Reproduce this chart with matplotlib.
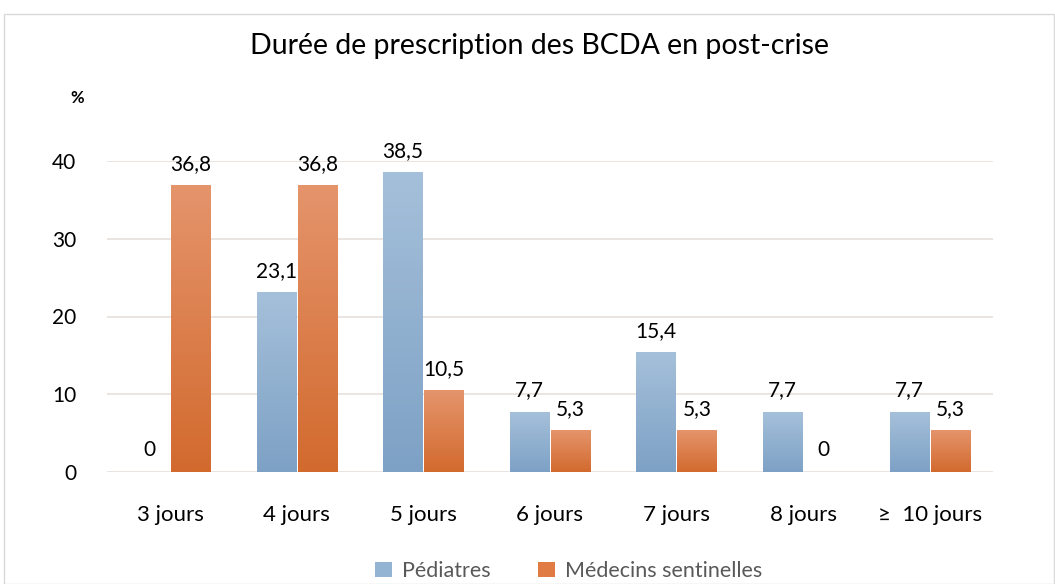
import matplotlib
matplotlib.use("Agg")
import matplotlib.pyplot as plt
import numpy as np
from matplotlib.patches import Rectangle, Patch
from matplotlib.colors import LinearSegmentedColormap

plt.rcParams['font.family'] = ['Lato', 'DejaVu Sans']

categories = ["3 jours", "4 jours", "5 jours", "6 jours", "7 jours", "8 jours", "≥  10 jours"]
pediatres = [0, 23.1, 38.5, 7.7, 15.4, 7.7, 7.7]
sentinelles = [36.8, 36.8, 10.5, 5.3, 5.3, 0, 5.3]
labels_ped = ["0", "23,1", "38,5", "7,7", "15,4", "7,7", "7,7"]
labels_sen = ["36,8", "36,8", "10,5", "5,3", "5,3", "0", "5,3"]
series_names = ["Pédiatres", "Médecins sentinelles"]

W, H = 1055, 584
fig = plt.figure(figsize=(W/100, H/100), dpi=100)
fig.patches.append(Rectangle((4/W, 0), (W-5)/W, (H-14)/H, transform=fig.transFigure,
                             fill=False, edgecolor='#d9d9d9', linewidth=1.0))

ax = fig.add_axes([107/W, 1-472/H, (993-107)/W, (472-161)/H])

blue_cmap = LinearSegmentedColormap.from_list("b", ["#7DA1C5", "#A5C0DA"])
orange_cmap = LinearSegmentedColormap.from_list("o", ["#D26A2E", "#E5946C"])
grad = np.linspace(0, 1, 256).reshape(-1, 1)

bw = 0.31
off = 0.162
x = np.arange(len(categories))
for xi, v, lab in zip(x, pediatres, labels_ped):
    x0 = xi - off - bw/2
    if v > 0:
        ax.imshow(grad, extent=(x0, x0+bw, 0, v), origin='lower', cmap=blue_cmap,
                  aspect='auto', zorder=2, interpolation='bilinear')
    ax.text(xi - off, v + 1.5, lab, ha='center', va='bottom', fontsize=15, color='black', clip_on=False)
for xi, v, lab in zip(x, sentinelles, labels_sen):
    x0 = xi + off - bw/2
    if v > 0:
        ax.imshow(grad, extent=(x0, x0+bw, 0, v), origin='lower', cmap=orange_cmap,
                  aspect='auto', zorder=2, interpolation='bilinear')
    ax.text(xi + off, v + 1.5, lab, ha='center', va='bottom', fontsize=15, color='black', clip_on=False)

ax.set_xlim(-0.5, len(categories)-0.5)
ax.set_ylim(0, 40)
ax.set_yticks([0, 10, 20, 30, 40])
ax.set_xticks(x)
ax.set_xticklabels(categories, fontsize=16)
ax.tick_params(axis='y', labelsize=15, length=0, pad=22)
ax.tick_params(axis='x', length=0, pad=24)
ax.yaxis.grid(True, color='#e6e0dc', linewidth=1.2, zorder=0)
ax.set_axisbelow(True)
for s in ax.spines.values():
    s.set_visible(False)

fig.text(540/W, 1-46/H, "Durée de prescription des BCDA en post-crise", ha='center', va='center', fontsize=20.5)
fig.text(77/W, 1-98/H, "%", ha='center', va='center', fontsize=12, fontweight='bold')

handles = [Patch(facecolor="#94B4D4"), Patch(facecolor="#E07B43")]
fig.legend(handles, series_names, loc='center', bbox_to_anchor=(569/W, 1-571/H), ncol=2,
           frameon=False, fontsize=15.5, labelcolor='#595959', handlelength=0.75, handleheight=0.75,
           columnspacing=2.2, handletextpad=0.5)

fig.savefig("out.png", dpi=100)
